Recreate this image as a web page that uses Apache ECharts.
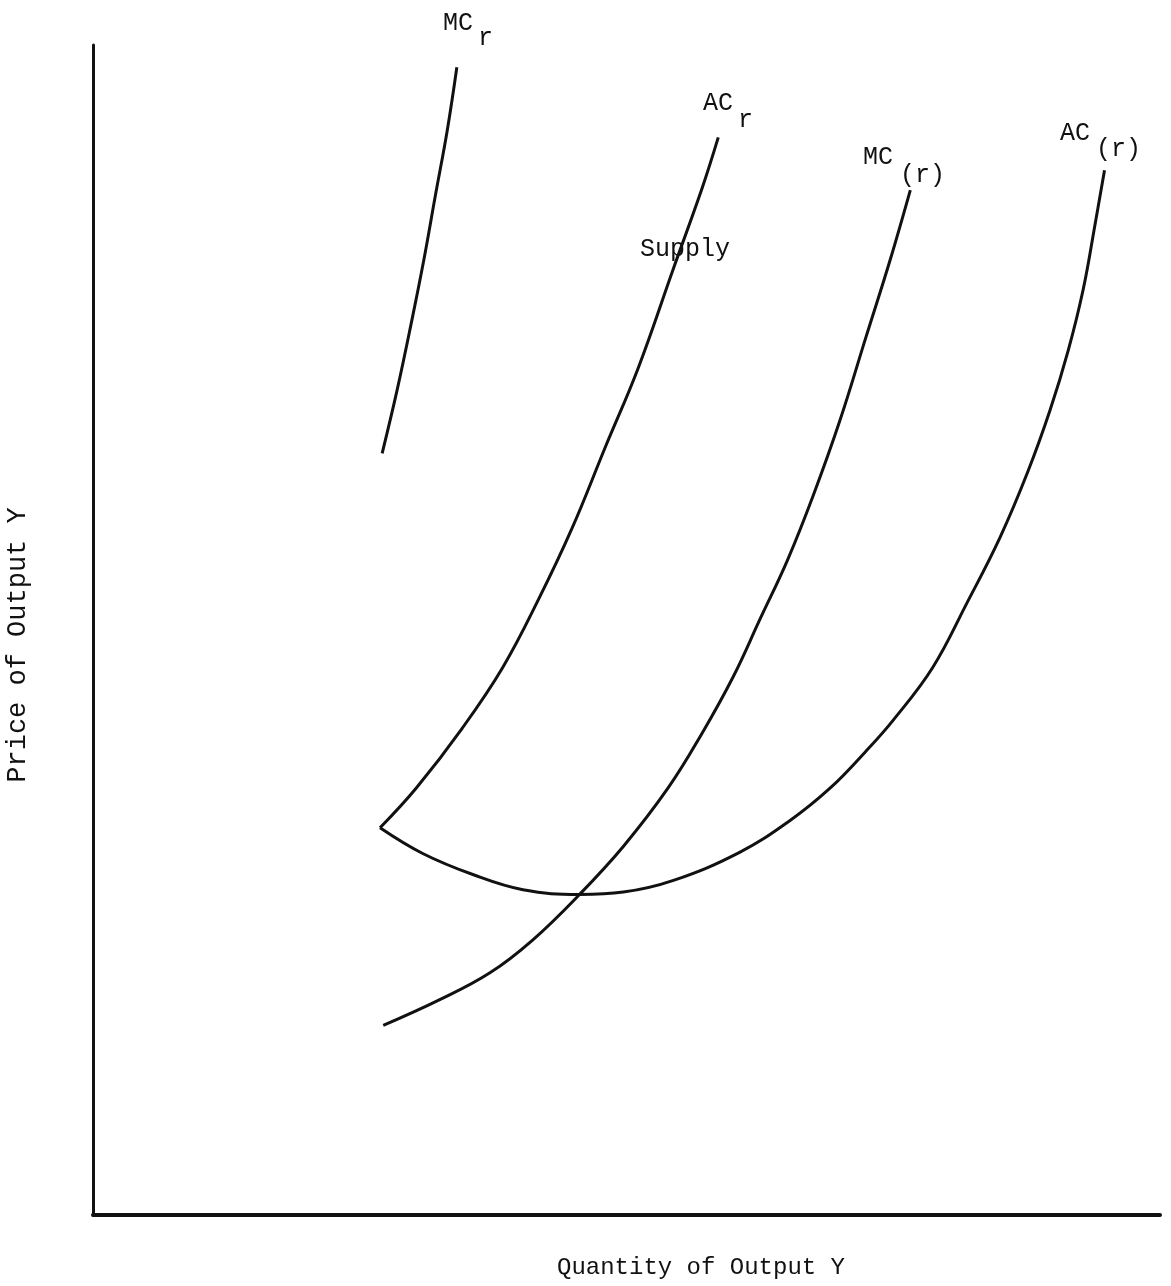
<!DOCTYPE html>
<html>
<head>
<meta charset="utf-8">
<script src="https://cdn.jsdelivr.net/npm/echarts@6/dist/echarts.min.js"></script>
<style>
  html, body { margin: 0; padding: 0; background: #fff; }
  #main { width: 1171px; height: 1286px; }
</style>
</head>
<body>
<div id="main"></div>
<script>
// curves, in axis units (0-100 on both axes)
const mcShortX = [27.1, 28.5, 29.8, 31.0, 32.1, 33.2, 34.1];
const mcShortY = [65.1, 70.5, 76.1, 81.6, 87.2, 92.7, 98.1];

const acShortX = [26.9, 30.3, 34.6, 38.4, 41.8, 44.9, 48.0, 51.1, 54.4, 57.1, 58.6];
const acShortY = [33.1, 36.5, 41.6, 46.8, 52.7, 58.7, 65.6, 72.4, 80.9, 87.8, 92.1];

const mcLongX = [27.2, 32.5, 37.2, 41.2, 45.6, 49.7, 53.9, 57.1, 60.0, 62.5, 65.1, 67.5, 70.0, 72.5, 74.7, 76.6];
const mcLongY = [16.2, 18.4, 20.7, 23.5, 27.4, 31.5, 36.5, 41.2, 46.0, 50.9, 56.0, 61.5, 67.9, 75.2, 81.6, 87.6];

const acLongX = [26.9, 30.9, 35.6, 40.3, 45.6, 49.7, 54.4, 60.6, 65.3, 69.1, 72.4, 75.0, 78.7, 81.9, 85.0, 87.6, 89.7, 91.4, 92.8, 93.9, 94.8];
const acLongY = [33.1, 30.9, 29.1, 27.8, 27.4, 27.6, 28.6, 31.0, 33.7, 36.5, 39.6, 42.3, 46.8, 52.3, 57.9, 63.5, 68.8, 73.9, 79.1, 84.6, 89.3];

const curveNames = ['MCr', 'ACr', 'MC(r)', 'AC(r)'];

const ink = '#111';
const fontFamily = '"Liberation Mono", "DejaVu Sans Mono", monospace';
const font = '25px ' + fontFamily;

function pairs(xs, ys) {
  return xs.map((x, i) => [x, ys[i]]);
}

function curve(name, xs, ys) {
  return {
    name: name,
    type: 'line',
    data: pairs(xs, ys),
    smooth: 0.4,
    symbol: 'none',
    lineStyle: { color: ink, width: 3 },
    silent: true
  };
}

// curve labels with typed subscripts
function label(text, x, y) {
  return {
    type: 'text',
    x: x,
    y: y,
    style: { text: text, font: font, fill: ink, textAlign: 'left', textVerticalAlign: 'middle' }
  };
}

const chart = echarts.init(document.getElementById('main'));

const option = {
  animation: false,
  backgroundColor: '#fff',
  grid: { left: 93, right: 11, top: 45, bottom: 71 },
  xAxis: {
    type: 'value',
    min: 0,
    max: 100,
    axisLine: { show: true, lineStyle: { color: ink, width: 4 } },
    axisTick: { show: false },
    axisLabel: { show: false },
    splitLine: { show: false }
  },
  yAxis: {
    type: 'value',
    min: 0,
    max: 100,
    axisLine: { show: true, lineStyle: { color: ink, width: 3 } },
    axisTick: { show: false },
    axisLabel: { show: false },
    splitLine: { show: false }
  },
  series: [
    curve(curveNames[0], mcShortX, mcShortY),
    curve(curveNames[1], acShortX, acShortY),
    curve(curveNames[2], mcLongX, mcLongY),
    curve(curveNames[3], acLongX, acLongY)
  ],
  graphic: [
    label('MC', 443, 23),
    label('r', 478, 38),
    label('AC', 703, 103),
    label('r', 738, 120),
    label('MC', 863, 157),
    label('(r)', 900, 175),
    label('AC', 1060, 133),
    label('(r)', 1096, 149),
    label('Supply', 640, 249),
    {
      type: 'text',
      x: 18,
      y: 645,
      rotation: Math.PI / 2,
      style: { text: 'Price of Output Y', font: '27px ' + fontFamily, fill: ink, textAlign: 'center', textVerticalAlign: 'middle' }
    },
    {
      type: 'text',
      x: 701,
      y: 1268,
      style: { text: 'Quantity of Output Y', font: '24px ' + fontFamily, fill: ink, textAlign: 'center', textVerticalAlign: 'middle' }
    }
  ]
};

chart.setOption(option);
</script>
</body>
</html>
